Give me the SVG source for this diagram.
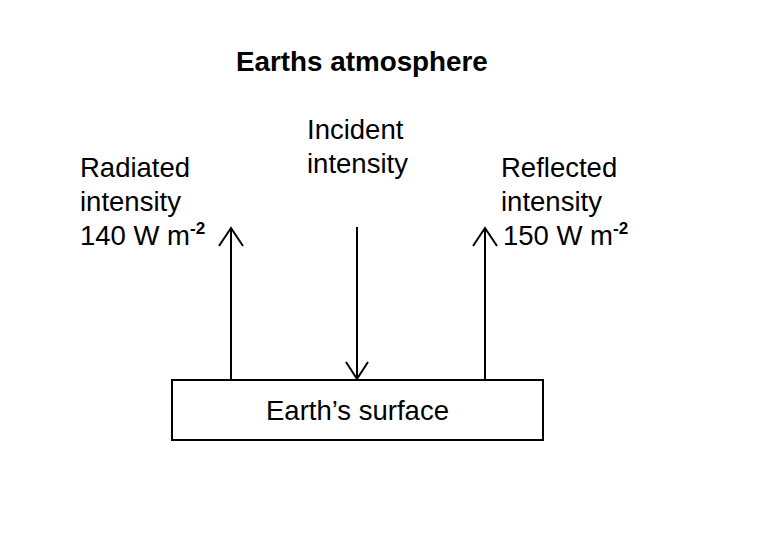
<svg xmlns="http://www.w3.org/2000/svg" width="771" height="533" viewBox="0 0 771 533">
<defs>
<style>
text{font-family:"Liberation Sans",Arial,sans-serif;font-size:27.5px;fill:#000}
.title{font-weight:bold;font-size:27.8px}
.sup{font-size:17px;font-weight:bold}
.ln{stroke:#000;stroke-width:2;fill:none}
</style>
</defs>
<rect width="771" height="533" fill="#fff"/>
<g id="title"><text class="title" x="236" y="71">Earths atmosphere</text></g>
<g id="radiated">
<text x="80" y="177">Radiated</text>
<text x="80" y="211">intensity</text>
<text x="80" y="245">140 W m<tspan class="sup" dy="-11">-2</tspan></text>
</g>
<g id="incident">
<text x="307" y="139">Incident</text>
<text x="307" y="173">intensity</text>
</g>
<g id="reflected">
<text x="501" y="177">Reflected</text>
<text x="501" y="211">intensity</text>
<text x="503" y="245">150 W m<tspan class="sup" dy="-11">-2</tspan></text>
</g>
<g id="surface">
<rect class="ln" x="172" y="380" width="371" height="60"/>
<text x="357.5" y="420" text-anchor="middle">Earth’s surface</text>
</g>
<g id="connectors">
<line class="ln" x1="231" y1="380" x2="231" y2="228"/>
<polyline class="ln" points="219,246 231,228 243,246"/>
<line class="ln" x1="357" y1="227" x2="357" y2="379"/>
<polyline class="ln" points="346,362 357,379 368,362"/>
<line class="ln" x1="485" y1="380" x2="485" y2="228"/>
<polyline class="ln" points="473,246 485,228 497,246"/>
</g>
</svg>
